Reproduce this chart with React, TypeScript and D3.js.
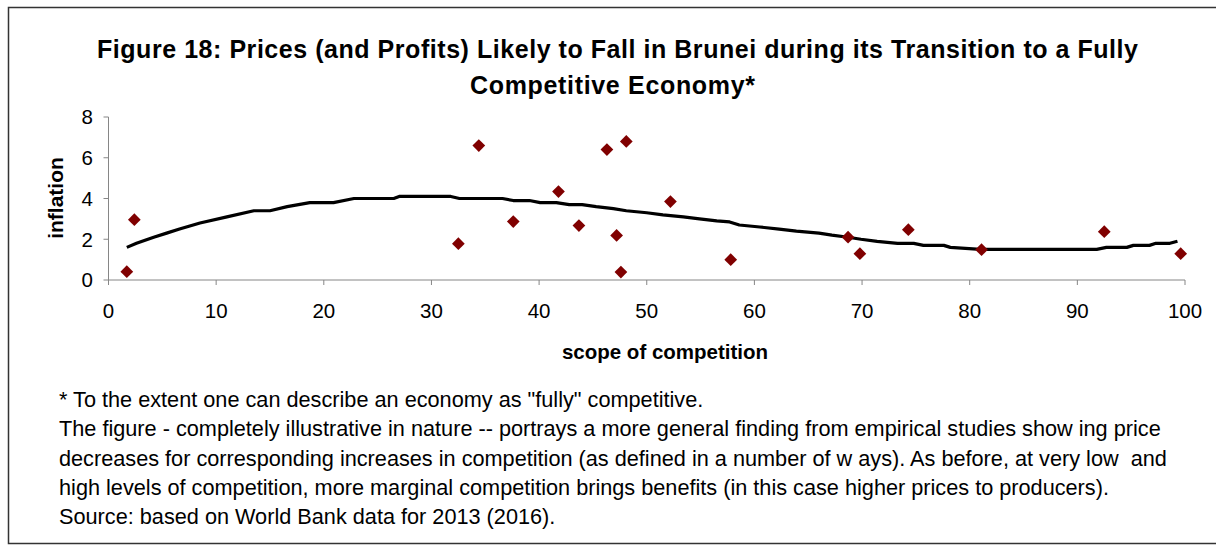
import * as d3 from 'd3'

// scatter of observed inflation vs. scope of competition
const scopeValues = [1.7, 2.4, 32.5, 34.4, 37.6, 41.8, 43.7, 46.3, 47.2, 47.6, 48.1, 52.2, 57.8, 68.7, 69.8, 74.3, 81.1, 92.5, 99.6]
const inflationValues = [0.41, 2.96, 1.78, 6.6, 2.87, 4.34, 2.67, 6.4, 2.19, 0.39, 6.8, 3.85, 1.0, 2.1, 1.29, 2.47, 1.49, 2.37, 1.29]

// fitted trend line
const trendX = [1.7, 2.6, 4.2, 5.4, 6.6, 8.5, 11, 13.5, 15, 16.6, 18.7, 20.9, 22.8, 26.5, 27, 31.8, 32.6, 36.6, 37.6, 39.1, 40.1, 41.6, 42.8, 44, 45.3, 46.9, 48.1, 50, 51.5, 53.4, 54.9, 56.5, 57.7, 58.6, 60.5, 62.3, 63.9, 66, 67.2, 68.7, 69.9, 71.4, 73.3, 74.8, 75.7, 77.6, 78.2, 81, 91.8, 92.7, 94.6, 95.2, 96.7, 97.3, 98.6, 99.3]
const trendY = [1.6, 1.8, 2.1, 2.3, 2.5, 2.8, 3.1, 3.4, 3.4, 3.6, 3.8, 3.8, 4.0, 4.0, 4.1, 4.1, 4.0, 4.0, 3.9, 3.9, 3.8, 3.8, 3.7, 3.7, 3.6, 3.5, 3.4, 3.3, 3.2, 3.1, 3.0, 2.9, 2.85, 2.7, 2.6, 2.5, 2.4, 2.3, 2.2, 2.1, 2.0, 1.9, 1.8, 1.8, 1.7, 1.7, 1.6, 1.5, 1.5, 1.6, 1.6, 1.7, 1.7, 1.8, 1.8, 1.9]

const xTicks = [0, 10, 20, 30, 40, 50, 60, 70, 80, 90, 100]
const yTicks = [0, 2, 4, 6, 8]

const titleLines = [
  'Figure 18: Prices (and Profits) Likely to Fall in Brunei during its Transition to a Fully',
  'Competitive Economy*'
]
const notes = [
  '* To the extent one can describe an economy as "fully" competitive.',
  'The figure - completely illustrative in nature -- portrays a more general finding from empirical studies show ing price',
  'decreases for corresponding increases in competition (as defined in a number of w ays). As before, at very low  and',
  'high levels of competition, more marginal competition brings benefits (in this case higher prices to producers).',
  'Source: based on World Bank data for 2013 (2016).'
]

const App = () => {
  const width = 1216
  const height = 552
  const font = 'Arial, "Liberation Sans", sans-serif'
  const axisColor = '#868686'

  const x = d3.scaleLinear().domain([0, 100]).range([108.5, 1185])
  const y = d3.scaleLinear().domain([0, 8]).range([280, 117])

  const trend = d3
    .line<number>()
    .x((d, i) => x(trendX[i]))
    .y((d) => y(d))(trendY)

  const diamond = d3.symbol().type(d3.symbolSquare).size(81)()

  // title lines: [center x, baseline y, span width]
  const titleLayout = [
    [617.5, 58, 1041],
    [612.5, 94, 285]
  ]

  return (
    <svg
      width={width}
      height={height}
      style={{ position: 'absolute', left: 0, top: 0, background: '#fff' }}
      fontFamily={font}
    >
      <rect x={8.5} y={7.5} width={1300} height={536} fill='none' stroke='#333' strokeWidth={1.5} />

      {titleLines.map((t, i) => (
        <text
          key={t}
          x={titleLayout[i][0]}
          y={titleLayout[i][1]}
          textAnchor='middle'
          fontSize={25}
          fontWeight='bold'
          fill='#000'
          textLength={titleLayout[i][2]}
          lengthAdjust='spacing'
        >
          {t}
        </text>
      ))}

      {/* axes */}
      <line x1={x(0)} x2={x(0)} y1={y(0)} y2={y(8)} stroke={axisColor} />
      <line x1={x(0)} x2={x(100)} y1={y(0)} y2={y(0)} stroke={axisColor} />
      {yTicks.map((t) => (
        <g key={'y' + t}>
          <line x1={x(0) - 5} x2={x(0)} y1={y(t)} y2={y(t)} stroke={axisColor} />
          <text x={93} y={y(t)} dy='0.36em' textAnchor='end' fontSize={20.5} fill='#000'>
            {t}
          </text>
        </g>
      ))}
      {xTicks.map((t) => (
        <g key={'x' + t}>
          <line x1={x(t)} x2={x(t)} y1={y(0)} y2={y(0) + 5} stroke={axisColor} />
          <text x={x(t)} y={318} textAnchor='middle' fontSize={20.5} fill='#000'>
            {t}
          </text>
        </g>
      ))}

      <text x={665} y={359} textAnchor='middle' fontSize={20.5} fontWeight='bold' fill='#000'>
        scope of competition
      </text>
      <text transform='translate(62.5,198) rotate(-90)' textAnchor='middle' fontSize={21} fontWeight='bold' fill='#000'>
        inflation
      </text>

      <path d={trend || ''} fill='none' stroke='#000' strokeWidth={3.2} strokeLinejoin='round' />

      {scopeValues.map((s, i) => (
        <path
          key={i}
          d={diamond || ''}
          transform={`translate(${x(s)},${y(inflationValues[i])}) rotate(45)`}
          fill='#800000'
        />
      ))}

      {notes.map((n, i) => (
        <text key={i} x={59} y={407 + i * 29.3} fontSize={21.7} fill='#000' style={{ whiteSpace: 'pre' }}>
          {n}
        </text>
      ))}
    </svg>
  )
}

export default App
